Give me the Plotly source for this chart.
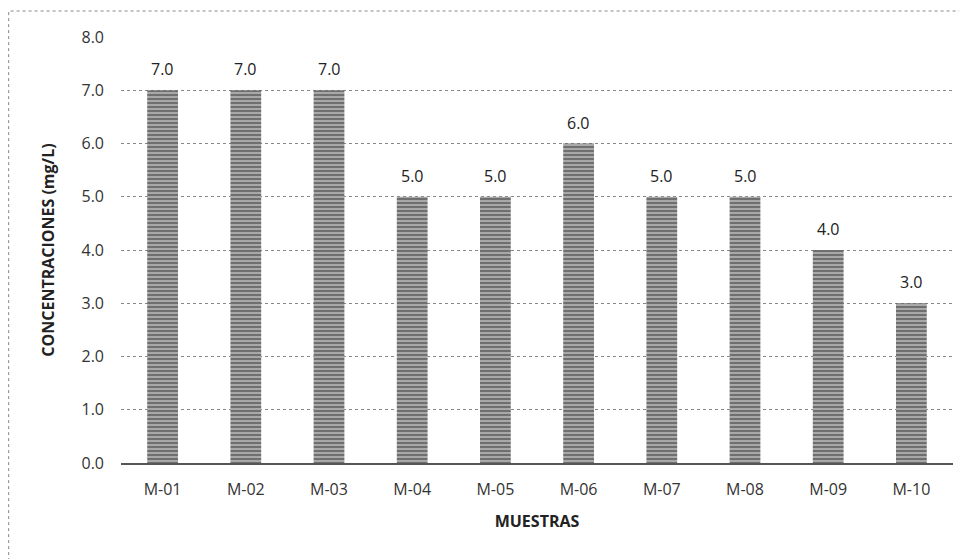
import plotly.graph_objects as go

muestras = ["M-01", "M-02", "M-03", "M-04", "M-05", "M-06", "M-07", "M-08", "M-09", "M-10"]
concentraciones = [7.0, 7.0, 7.0, 5.0, 5.0, 6.0, 5.0, 5.0, 4.0, 3.0]
y_ticks = [0, 1, 2, 3, 4, 5, 6, 7, 8]

fig = go.Figure()
fig.add_trace(go.Bar(
    x=muestras, y=concentraciones,
    marker=dict(color="#a8a8a8", line=dict(width=0),
                pattern=dict(shape="-", fgcolor="#2a2a2a", size=4, solidity=0.45)),
))

for m, v in zip(muestras, concentraciones):
    fig.add_annotation(x=m, y=v, text=f"{v:.1f}", showarrow=False,
                       yanchor="bottom", yshift=8,
                       font=dict(size=16, color="#222"))

fig.update_layout(
    width=967, height=559,
    margin=dict(l=113, r=22, t=29, b=104),
    paper_bgcolor="white", plot_bgcolor="white",
    font=dict(family="Open Sans, Liberation Sans, sans-serif", size=16, color="#333"),
    bargap=0.63,
    showlegend=False,
    xaxis=dict(
        title=dict(text="<b>MUESTRAS</b>", font=dict(size=16, color="#222"), standoff=17),
        automargin=False,
        showgrid=False, showline=True, linecolor="#555", linewidth=2,
        ticks="", tickfont=dict(size=16, color="#333"), ticklabelstandoff=11,
    ),
    yaxis=dict(
        title=dict(text="<b>CONCENTRACIONES (mg/L)</b>", font=dict(size=16, color="#222"), standoff=22),
        automargin=False,
        range=[0, 8], tickvals=y_ticks, ticktext=[f"{v:.1f}" for v in y_ticks],
        showgrid=True, gridcolor="#888", griddash="dot", gridwidth=1,
        zeroline=False, showline=False, ticks="",
        tickfont=dict(size=16, color="#333"), ticklabelstandoff=16,
    ),
    shapes=[dict(type="rect", xref="paper", yref="paper",
                 x0=-0.135, x1=1.05, y0=-0.35, y1=1.061,
                 line=dict(color="#888", width=1, dash="dot"))],
)

fig.write_html("out.html")
